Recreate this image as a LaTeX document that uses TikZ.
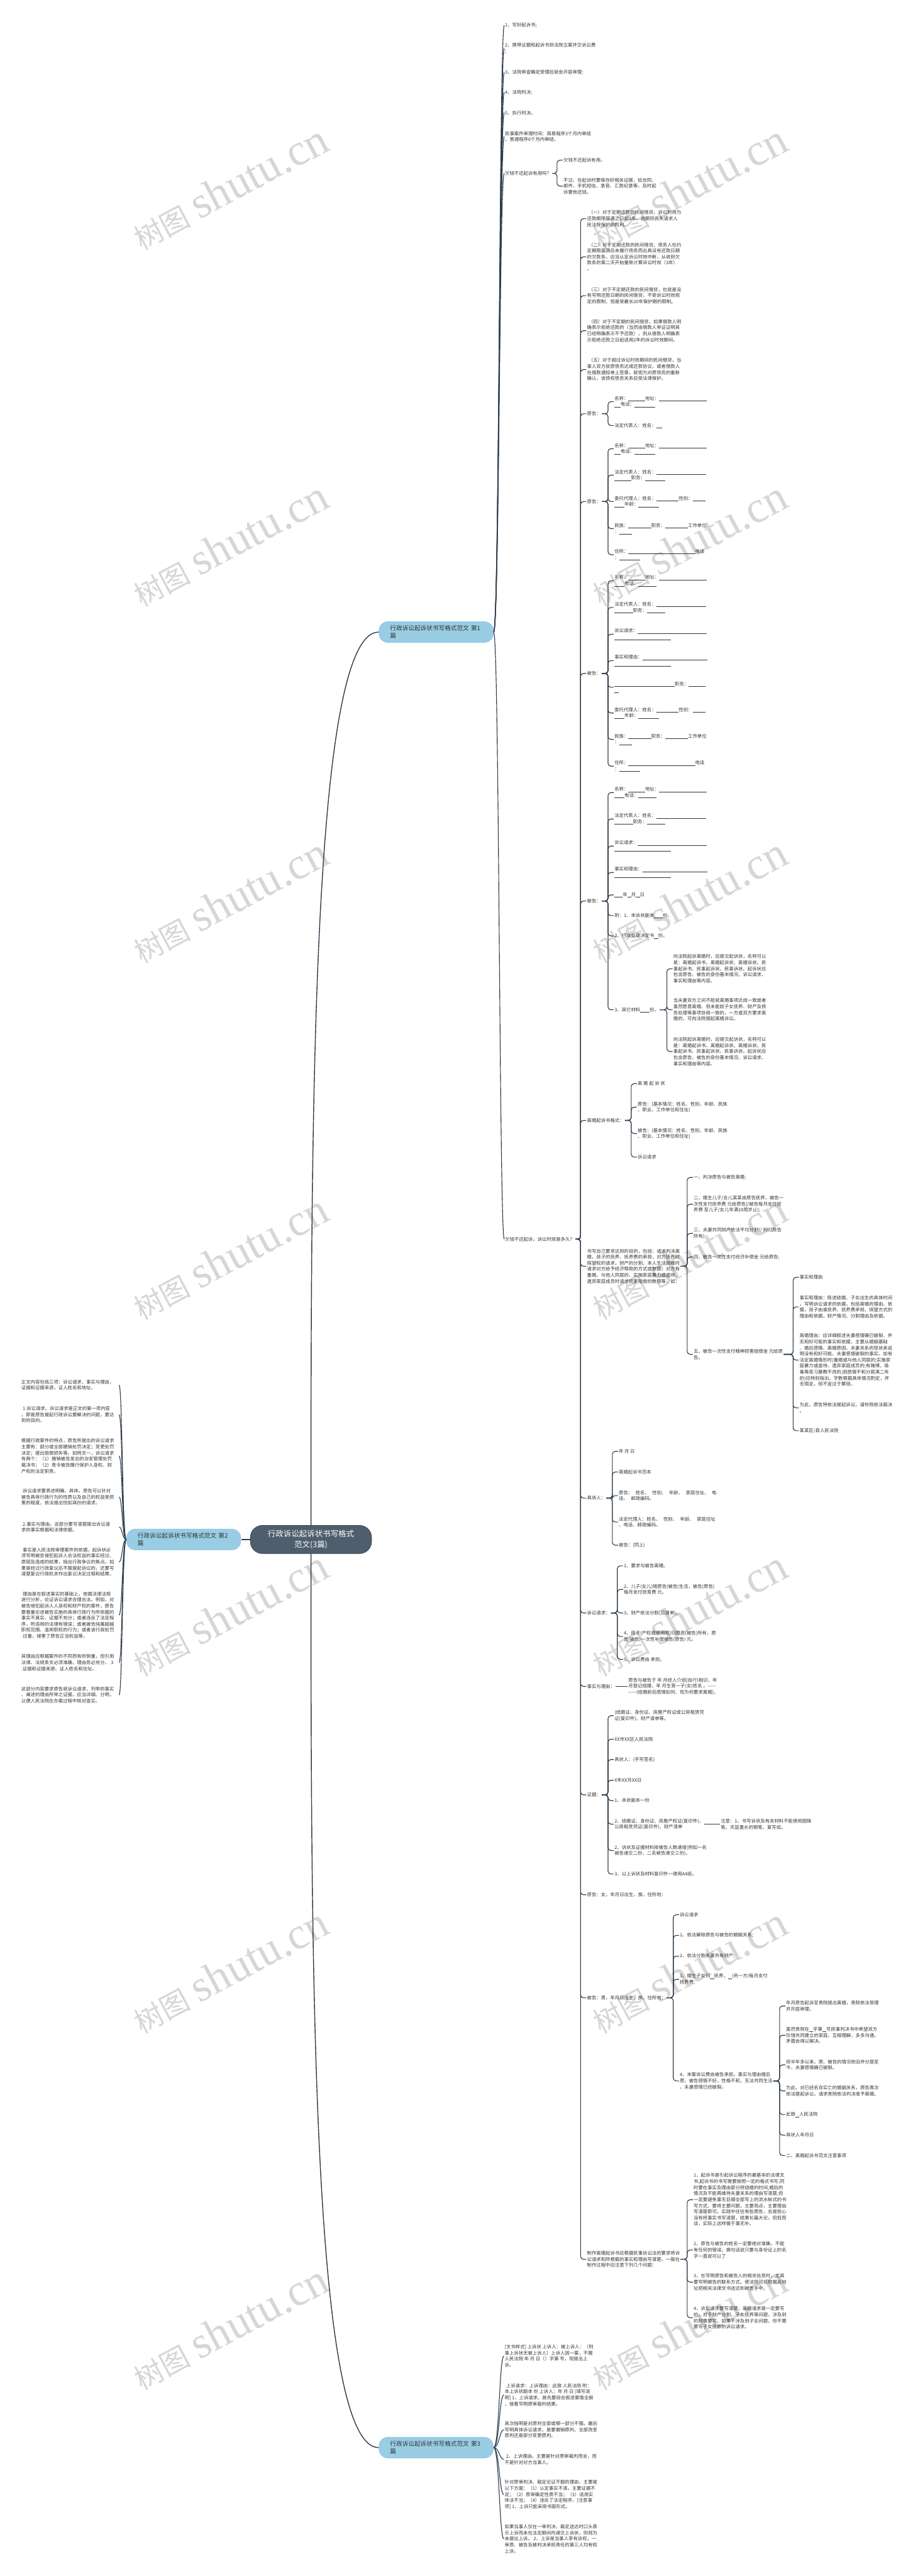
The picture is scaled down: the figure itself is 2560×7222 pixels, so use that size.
\documentclass[tikz,border=0pt]{standalone}
\usepackage{fontspec}
\setmainfont{Noto Sans CJK SC}
\newfontfamily\wmlatin{Liberation Serif}
\definecolor{linec}{HTML}{2F3E4C}
\definecolor{txtc}{HTML}{333333}
\definecolor{rootc}{HTML}{4F5E6D}
\definecolor{rootb}{HTML}{3E4B58}
\definecolor{brc}{HTML}{98CDE4}
\definecolor{wmc}{HTML}{D6D6D6}
\newcommand\blk[1]{\rule[-2.5pt]{#1pt}{0.8pt}}
\newcommand\lsp{\hspace*{4pt}}
\newcommand\wsp{\hspace{8pt}}
\newcommand\dsh{-{}-{}-{}-{}-}
\newcommand\wmtext{{\fontsize{80}{80}\selectfont 树图}\hspace{24pt}{\wmlatin\fontsize{125}{125}\selectfont shutu.cn}}

\begin{document}
\begin{tikzpicture}[x=1pt,y=-1pt,
  txt/.style={anchor=west,align=left,inner sep=2pt,font=\fontsize{13}{17}\selectfont,text=txtc},
  ltxt/.style={txt,anchor=east,text width=272pt},
  rootbox/.style={fill=rootc,draw=rootb,line width=1.5pt,rounded corners=34pt,minimum width=340pt,minimum height=79pt,align=center,text=white,font=\fontsize{22}{30}\selectfont},
  branch/.style={fill=brc,rounded corners=26pt,minimum width=322pt,minimum height=60pt,inner sep=0pt,text width=258pt,align=left,font=\fontsize{17}{21}\selectfont,text=txtc},
  lnk/.style={draw=linec,line width=2pt},
  hook/.style={lnk,rounded corners=8pt},
  wm/.style={text=wmc,rotate=28,inner sep=0pt}]

\fill[white] (0,0) rectangle (2560,7222);
\useasboundingbox (0,0) rectangle (2560,7222);

%% watermarks
\foreach \y [count=\i] in {525,1525,2525,3525,4525,5525,6525} {
  \node[wm] (wl\i) at (645,\y) {\wmtext};
  \node[wm] (wr\i) at (1932,\y) {\wmtext};
}

%% centre and branches
\node[rootbox] (hub) at (872,4316) {行政诉讼起诉状书写格式\\范文(3篇)};
\node[branch] (br1) at (1223,1772) {行政诉讼起诉状书写格式范文 第1\\篇};
\node[branch] (br2) at (515,4316) {行政诉讼起诉状书写格式范文 第2\\篇};
\node[branch] (br3) at (1223,6862) {行政诉讼起诉状书写格式范文 第3\\篇};

%% branch 1
\node[txt] (f1) at (1414,71) {1、写好起诉书;};
\node[txt] (f2) at (1414,136) {2、携带证据和起诉书到法院立案并交诉讼费\\;};
\node[txt] (f3) at (1414,203) {3、法院审查确定受理后就会开庭审理;};
\node[txt] (f4) at (1414,259) {4、法院判决;};
\node[txt] (f5) at (1414,316) {5、执行判决。};
\node[txt] (f6) at (1414,383) {民事案件审理时间：简易程序3个月内审结\\。普通程序6个月内审结。};
\node[txt] (f7) at (1414,486) {欠钱不还起诉有用吗？};
\node[txt] (f7a) at (1578,449) {欠钱不还起诉有用。};
\node[txt] (f7b) at (1578,522) {不过，在起诉时要保存好相关证据，如合同、\\邮件、手机短信、录音、汇款纪录等，及时起\\诉要他还钱。};
\node[txt] (f8) at (1414,3474) {欠钱不还起诉，诉讼时效是多久？};

\node[txt] (g1) at (1644,613) {\lsp（一）对于定期还款的民间借贷，诉讼时效为\\还款期限届满之日起3年，逾期则丧失请求人\\民法院保护的权利。};
\node[txt] (g2) at (1644,720) {\lsp（二）对于定期还款的民间借贷，债务人在约\\定期限届满后未履行债务而出具没有还款日期\\的欠款条，应当认定诉讼时效中断，从收到欠\\款条的第二天开始重新计算诉讼时效（3年）\\。};
\node[txt] (g3) at (1644,829) {\lsp（三）对于不定期还款的民间借贷，也就是没\\有写明还款日期的民间借贷，不受诉讼时效规\\定的限制，但是受最长20年保护期的限制。};
\node[txt] (g4) at (1644,927) {\lsp（四）对于不定期的民间借贷，如果借款人明\\确表示拒绝还款的（当然由借款人举证证明其\\已经明确表示不予还款），则从借款人明确表\\示拒绝还款之日起适用2年的诉讼时效期间。};
\node[txt] (g5) at (1644,1036) {\lsp（五）对于超过诉讼时效期间的民间借贷，当\\事人双方就原债务达成还款协议，或者借款人\\在借款通知单上签章，就视为对原债务的重新\\确认，该债权债务关系应受法律保护。};

\node[txt] (g6) at (1644,1160) {原告：};
\node[txt] (g6a) at (1721,1126) {名称：\blk{47}地址：\blk{134}\\\blk{17}电话：\blk{58}};
\node[txt] (g6b) at (1721,1193) {法定代表人：姓名：\blk{17}};

\node[txt] (g7) at (1644,1406) {原告：};
\node[txt] (g7a) at (1721,1258) {名称：\blk{47}地址：\blk{134}\\\blk{17}电话：\blk{58}};
\node[txt] (g7b) at (1721,1332) {法定代表人：姓名：\blk{140}\\\blk{47}职务：\blk{57}};
\node[txt] (g7c) at (1721,1406) {委托代理人：姓名：\blk{63}性别：\blk{36}\\\blk{28}年龄：\blk{58}};
\node[txt] (g7d) at (1721,1482) {民族：\blk{64}职务：\blk{64}工作单位\\：\blk{36}};
\node[txt] (g7e) at (1721,1555) {住所：\blk{187}电话\\：\blk{58}};

\node[txt] (g8) at (1644,1888) {被告：};
\node[txt] (g8a) at (1721,1628) {名称：\blk{47}地址：\blk{134}\\\blk{28}电话：\blk{51}};
\node[txt] (g8b) at (1721,1703) {法定代表人：姓名：\blk{140}\\\blk{52}职务：\blk{52}};
\node[txt] (g8c) at (1721,1778) {诉讼请求：\blk{193}\\\blk{158}};
\node[txt] (g8d) at (1721,1852) {事实和理由：\blk{182}\\\blk{158}};
\node[txt] (g8e) at (1721,1927) {\blk{169}职务：\blk{47}\\\blk{11}};
\node[txt] (g8f) at (1721,1999) {委托代理人：姓名：\blk{63}性别：\blk{36}\\\blk{28}年龄：\blk{58}};
\node[txt] (g8g) at (1721,2073) {民族：\blk{64}职务：\blk{64}工作单位\\：\blk{36}};
\node[txt] (g8h) at (1721,2148) {住所：\blk{187}电话\\：\blk{58}};

\node[txt] (g9) at (1644,2526) {被告：};
\node[txt] (g9a) at (1721,2222) {名称：\blk{47}地址：\blk{134}\\\blk{28}电话：\blk{51}};
\node[txt] (g9b) at (1721,2296) {法定代表人：姓名：\blk{140}\\\blk{52}职务：\blk{52}};
\node[txt] (g9c) at (1721,2372) {诉讼请求：\blk{193}\\\blk{158}};
\node[txt] (g9d) at (1721,2446) {事实和理由：\blk{182}\\\blk{158}};
\node[txt] (g9e) at (1721,2509) {\blk{23}年\blk{11}月\blk{11}日};
\node[txt] (g9f) at (1721,2567) {附：1、本诉状副本\blk{24}份。};
\node[txt] (g9g) at (1721,2624) {2、行政处理决定书\blk{11}份。};
\node[txt] (g9h) at (1721,2831) {3、其它材料\blk{26}份。};
\node[txt] (g9h1) at (1886,2716) {向法院起诉离婚时，应提交起诉状，名称可以\\是：离婚起诉书、离婚起诉状、离婚诉状、民\\事起诉书、民事起诉状、民事诉状。起诉状应\\包含原告、被告的身份基本情况、诉讼请求、\\事实和理由等内容。};
\node[txt] (g9h2) at (1886,2831) {当夫妻双方之间不能就离婚事项达成一致或者\\虽然愿意离婚、但未能就子女抚养、财产及债\\务处理等事项协商一致的，一方或双方要求离\\婚的，可向法院提起离婚诉讼。};
\node[txt] (g9h3) at (1886,2948) {向法院起诉离婚时，应提交起诉状，名称可以\\是：离婚起诉书、离婚起诉状、离婚诉状、民\\事起诉书、民事起诉状、民事诉状。起诉状应\\包含原告、被告的身份基本情况、诉讼请求、\\事实和理由等内容。};

\node[txt] (g10) at (1644,3141) {离婚起诉书格式：};
\node[txt] (g10a) at (1786,3038) {离 婚 起 诉 状};
\node[txt] (g10b) at (1786,3104) {原告：(基本情况：姓名、性别、年龄、民族\\、职业、工作单位和住址)};
\node[txt] (g10c) at (1786,3178) {被告：(基本情况：姓名、性别、年龄、民族\\、职业、工作单位和住址)};
\node[txt] (g10d) at (1786,3244) {诉讼请求};

\node[txt] (g11) at (1644,3550) {书写自己要求达到的目的，包括：请求判决离\\婚，孩子的抚养、抚养费的承担，对方抚养时\\探望权的请求，财产的分割，本人生活困难时\\请求对方给予经济帮助的方式或数额，对方有\\重婚、与他人同居的、实施家庭暴力或虐待、\\遗弃家庭成员时请求损害赔偿的数额等，如：};
\node[txt] (g11a) at (1943,3301) {一、判决原告与被告离婚;};
\node[txt] (g11b) at (1943,3376) {二、婚生儿子/女儿某某由原告抚养，被告一\\次性支付抚养费 元给原告(/被告每月支付抚\\养费 至儿子/女儿年满18周岁止);};
\node[txt] (g11c) at (1943,3458) {三、夫妻共同财产依法平均分割(/ 判归原告\\所有);};
\node[txt] (g11d) at (1943,3524) {四、被告一次性支付经济补偿金 元给原告;};
\node[txt] (g11e) at (1943,3797) {五、被告一次性支付精神损害赔偿金 元给原\\告。};
\node[txt] (g11e1) at (2240,3581) {事实和理由};
\node[txt] (g11e2) at (2240,3664) {事实和理由：陈述结婚、子女出生的具体时间\\，写明诉讼请求的依据，包括离婚的理由、依\\据，孩子由谁抚养、抚养费承担、探望方式的\\理由和依据，财产情况、分割理由及依据。};
\node[txt] (g11e3) at (2240,3813) {离婚理由：应详细叙述夫妻感情确已破裂、并\\无和好可能的事实和依据，主要从婚姻基础\\、婚后感情、离婚原因、夫妻关系的现状来说\\明没有和好可能、夫妻感情破裂的事实。如有\\法定离婚情形时(重婚或与他人同居的;实施家\\庭暴力或虐待、遗弃家庭成员的;有赌博、吸\\毒等恶习屡教不改的;因感情不和分居满二年\\的)应特别指出。字数根据具体情况酌定，并\\无限定，但不宜过于繁琐。};
\node[txt] (g11e4) at (2240,3947) {为此，原告特依法提起诉讼，请你院依法裁决\\。};
\node[txt] (g11e5) at (2240,4011) {某某区/县人民法院};

\node[txt] (g12) at (1644,4200) {具状人：};
\node[txt] (g12a) at (1733,4069) {年 月 日};
\node[txt] (g12b) at (1733,4127) {离婚起诉书范本};
\node[txt] (g12c) at (1733,4193) {原告：\wsp 姓名、\wsp 性别、\wsp 年龄、\wsp 家庭住址、\wsp 电\\话、\wsp 邮政编码。};
\node[txt] (g12d) at (1733,4267) {法定代理人：姓名、\wsp 性别、\wsp 年龄、\wsp 家庭住址\\、电话、邮政编码。};
\node[txt] (g12e) at (1733,4332) {被告：(同上)};

\node[txt] (g13) at (1644,4522) {诉讼请求：};
\node[txt] (g13a) at (1747,4390) {1、要求与被告离婚。};
\node[txt] (g13b) at (1747,4456) {2、儿子(女儿)随原告(被告)生活，被告(原告)\\每月支付抚育费 元。};
\node[txt] (g13c) at (1747,4522) {3、财产依法分割(见清单)。};
\node[txt] (g13d) at (1747,4588) {4、房子(产权或使用权)归原告(被告)所有，原\\告(被告)一次性补偿被告(原告) 元。};
\node[txt] (g13e) at (1747,4652) {5、诉讼费由 承担。};

\node[txt] (g14) at (1644,4728) {事实与理由：};
\node[txt] (g14a) at (1760,4728) {原告与被告于 年 月经人介绍(自行)相识，年\\月登记结婚，年 月生育一子(女)姓名 。\dsh\\\dsh(结婚前后感情如何、现为何要求离婚)。};

\node[txt] (g15) at (1644,5032) {证据：};
\node[txt] (g15a) at (1721,4810) {(结婚证、身份证、房屋产权证或公房租赁凭\\证(复印件)、财产清单等。};
\node[txt] (g15b) at (1721,4876) {XX市XX区人民法院};
\node[txt] (g15c) at (1721,4933) {具状人：(手写签名)};
\node[txt] (g15d) at (1721,4991) {X年XX月XX日};
\node[txt] (g15e) at (1721,5048) {1、本状副本一份};
\node[txt] (g15f) at (1721,5114) {2、结婚证、身份证、房屋产权证(复印件)、\\公房租赁凭证(复印件)、财产清单};
\node[txt] (g15f1) at (2019,5114) {注意：1、书写诉状及有关材料不能使用圆珠\\笔、天蓝墨水的钢笔、复写纸。};
\node[txt] (g15g) at (1721,5188) {2、诉状及证据材料按被告人数递增(例如一名\\被告递交二份、二名被告递交三份)。};
\node[txt] (g15h) at (1721,5254) {3、以上诉状及材料复印件一律用A4纸。};

\node[txt] (g16) at (1644,5312) {原告：女，年月日出生，族，住所地：};

\node[txt] (g17) at (1644,5601) {被告：男，年月日出生，族，住所地：};
\node[txt] (g17a) at (1904,5368) {诉讼请求};
\node[txt] (g17b) at (1904,5426) {1、依法解除原告与被告的婚姻关系;};
\node[txt] (g17c) at (1904,5484) {2、依法分割夫妻共有财产;};
\node[txt] (g17d) at (1904,5549) {3、婚生子女归\blk{11}抚养，\blk{11}(另一方)每月支付\\抚养费;};
\node[txt] (g17e) at (1904,5834) {4、本案诉讼费由被告承担。事实与理由婚后\\原、被告感情不好，性格不和，无法共同生活\\，夫妻感情已经破裂。};
\node[txt] (g17e1) at (2202,5624) {年月原告起诉至贵院提出离婚，贵院依法受理\\并开庭审理。};
\node[txt] (g17e2) at (2202,5706) {虽然贵院在\blk{11}字第\blk{11}号民事判决书中希望双方\\珍惜共同建立的家庭、互相理解，多多沟通，\\矛盾会得以解决。};
\node[txt] (g17e3) at (2202,5789) {但半年多以来，原、被告的情况依旧并分居至\\今，夫妻感情确已破裂。};
\node[txt] (g17e4) at (2202,5862) {为此，对已经名存实亡的婚姻关系，原告再次\\依法提起诉讼，请求贵院依法判决准予离婚。};
\node[txt] (g17e5) at (2202,5928) {此致\blk{11}人民法院};
\node[txt] (g17e6) at (2202,5986) {具状人年月日};
\node[txt] (g17e7) at (2202,6043) {二、离婚起诉书范文注意事项};

\node[txt] (g18) at (1644,6334) {制作离婚起诉书应根据民事诉讼法的要求将诉\\讼请求和所根据的事实和理由写清楚。一般在\\制作过程中应注意下列几个问题：};
\node[txt] (g18a) at (1943,6167) {1、起诉书是引起诉讼程序的最基本的法律文\\书,起诉书的书写需要按照一定的格式书写,同\\时要在事实及理由部分将结婚的时间,婚后的\\情况及不能再维持夫妻关系的理由写清楚,但\\一定要避免事无巨细全部写上的流水帐式的书\\写方式，要将主要问题，主要观点，主要理由\\写清楚即可。实践中往往有些原告，总是担心\\没有将事实书写清楚，结果长篇大论，侃侃而\\谈，实际上这样做于事无补。};
\node[txt] (g18b) at (1943,6308) {2、原告与被告的姓名一定要绝对准确，不能\\有任何的错误，换句话说只要与身份证上的名\\字一直就可以了};
\node[txt] (g18c) at (1943,6398) {3、在写明原告和被告人的相关信息时，尤其\\要写明被告的联系方式，使法院可以根据此地\\址把相关法律文书送达到被告手中。};
\node[txt] (g18d) at (1943,6498) {4、诉讼请求要写清楚，离婚请求是一定要写\\的，对于财产分割，子女抚养等问题，涉及到\\的财需要写。如果不涉及到子女问题，你不需\\要写子女抚养的诉讼请求。};

%% branch 2
\node[ltxt] (m1) at (334,3883) {正文内容包括三项：诉讼请求，事实与理由，\\证据和证据来源，证人姓名和地址。};
\node[ltxt] (m2) at (334,3966) {\lsp 1.诉讼请求。诉讼请求是正文的第一项内容\\，即是原告提起行政诉讼要解决的问题，要达\\到的目的。};
\node[ltxt] (m3) at (334,4082) {根据行政案件的特点，原告所提出的诉讼请求\\主要有：部分或全部撤销处罚决定；变更处罚\\决定；提出赔偿损失等。如例文一，诉讼请求\\有两个：（1）撤销被告发出的治安管理处罚\\裁决书；（2）责令被告履行保护人身权、财\\产权的法定职责。};
\node[ltxt] (m4) at (334,4197) {\lsp 诉讼请求要表述明确、具体。原告可以针对\\被告具体行政行为的性质以及自己的权益受损\\害的程度，依法提出恰如其份的请求。};
\node[ltxt] (m5) at (334,4281) {\lsp 2.事实与理由。这部分要写清楚提出诉讼请\\求的事实根据和法律依据。};
\node[ltxt] (m6) at (334,4379) {\lsp 事实是人民法院审理案件的依据，起诉状必\\须写明被告侵犯起诉人合法权益的事实经过、\\原因及造成的结果，指出行政争议的焦点。如\\果是经过行政复议后不服提起诉讼的，还要写\\清楚复议行政机关作出复议决定过程和结果。};
\node[ltxt] (m7) at (334,4528) {\lsp 理由是在叙述事实的基础上，依据法律法规\\进行分析，论证诉讼请求合理合法。例如，对\\被告侵犯起诉人人身权和财产权的案件，原告\\要着重论述被告实施的具体行政行为所依据的\\事实不真实、证据不充分；或者违反了法定程\\序，所适用的法律有错误；或者被告纯属超越\\职权范围、滥用职权的行为；或者该行政处罚\\\lsp 过重，侵害了原告正当权益等。};
\node[ltxt] (m8) at (334,4661) {其理由应根据案件的不同而有所侧重，但引用\\法律、法规条文必须准确，理由务必充分。 3\\.证据和证据来源、证人姓名和住址。};
\node[ltxt] (m9) at (334,4752) {这部分内容要求原告就诉讼请求、列举的事实\\、阐述的理由所举之证据，应当详细、分明，\\以便人民法院在办案过程中核对查实。};

%% branch 3
\node[txt] (r1) at (1413,6605) {[文书样式] 上诉状 上诉人：被上诉人：（刑\\事上诉状无被上诉人）上诉人因一案，不服\\人民法院 年 月 日（）字第 号，现提出上\\诉。};
\node[txt] (r2) at (1413,6714) {\lsp 上诉请求：上诉理由：此致 人民法院 附：\\本上诉状副本 份 上诉人：年 月 日 [填写说\\明] 1、上诉请求。首先要综合叙述案情全貌\\，接着写明原审裁判结果。};
\node[txt] (r3) at (1413,6812) {其次指明是对原判全部或哪一部分不服。最后\\写明具体诉讼请求，是要撤销原判、全部改变\\原判还是部分变更原判。};
\node[txt] (r4) at (1413,6895) {\lsp 2、上诉理由。主要是针对原审裁判而言，而\\不是针对对方当事人。};
\node[txt] (r5) at (1413,6994) {针对原审判决、裁定论证不服的理由，主要是\\以下方面：（1）认定事实不清，主要证据不\\足；（2）原审确定性质不当；（3）适用实\\体法不当；（4）违反了法定程序。[注意事\\项] 1、上诉只能采用书面形式。};
\node[txt] (r6) at (1413,7118) {如果当事人仅在一审判决、裁定送达时口头表\\示上诉而未在法定期间内递交上诉状，则视为\\未提出上诉。 2、上诉是当事人享有诉权，一\\审原、被告及被判决承担责任的第三人均有权\\上诉。};

%% connectors
\draw[lnk,line width=2.5pt] (hub.north) .. controls +(0,-1146) and +(-188,0) .. (br1.west);
\draw[lnk,line width=2.5pt] (hub.south) .. controls +(0,1146) and +(-188,0) .. (br3.west);
\draw[lnk,line width=2.5pt] (hub.west) -- (br2.east);
\foreach \c in {f1,f2,f3,f4,f5,f6,f7,f8}
  \draw[lnk] (br1.east) .. controls +(16,0) and +(-14,0) .. (\c.west);
\foreach \c in {r1,r2,r3,r4,r5,r6}
  \draw[lnk] (br3.east) .. controls +(16,0) and +(-13,0) .. (\c.west);
\foreach \c in {m1,m2,m3,m4,m5,m6,m7,m8,m9}
  \draw[lnk] (br2.west) .. controls +(-11,0) and +(9,0) .. (\c.east);
\foreach \p/\cs in {f7/{f7a,f7b},
    f8/{g1,g2,g3,g4,g5,g6,g7,g8,g9,g10,g11,g12,g13,g14,g15,g16,g17,g18},
    g6/{g6a,g6b}, g7/{g7a,g7b,g7c,g7d,g7e},
    g8/{g8a,g8b,g8c,g8d,g8e,g8f,g8g,g8h},
    g9/{g9a,g9b,g9c,g9d,g9e,g9f,g9g,g9h}, g9h/{g9h1,g9h2,g9h3},
    g10/{g10a,g10b,g10c,g10d}, g11/{g11a,g11b,g11c,g11d,g11e},
    g11e/{g11e1,g11e2,g11e3,g11e4,g11e5}, g12/{g12a,g12b,g12c,g12d,g12e},
    g13/{g13a,g13b,g13c,g13d,g13e}, g15/{g15a,g15b,g15c,g15d,g15e,g15f,g15g,g15h},
    g17/{g17a,g17b,g17c,g17d,g17e}, g17e/{g17e1,g17e2,g17e3,g17e4,g17e5,g17e6,g17e7},
    g18/{g18a,g18b,g18c,g18d}}
  \foreach \c in \cs
    \draw[hook] (\p.east) -| ([xshift=-16pt]\c.west) -- (\c.west);
\draw[lnk] (g14.east) -- (g14a.west);
\draw[lnk] (g15f.east) -- (g15f1.west);
\end{tikzpicture}
\end{document}
